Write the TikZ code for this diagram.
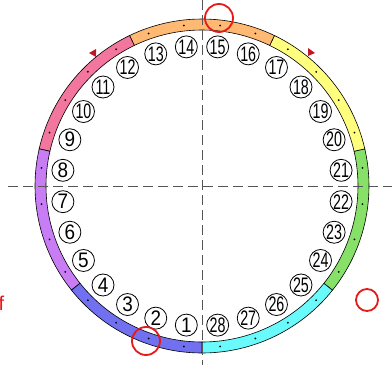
\documentclass[tikz,border=0pt]{standalone}
\usepackage{fontspec}
\setsansfont{Liberation Sans}
\definecolor{segcyan}{RGB}{105,250,252}
\definecolor{seggreen}{RGB}{135,225,105}
\definecolor{segyellow}{RGB}{255,255,125}
\definecolor{segorange}{RGB}{255,185,115}
\definecolor{segpink}{RGB}{242,118,158}
\definecolor{segpurple}{RGB}{200,125,245}
\definecolor{segblue}{RGB}{112,112,240}
\definecolor{markred}{RGB}{230,25,25}
\definecolor{flagred}{RGB}{195,20,40}
\definecolor{axisgray}{RGB}{85,85,85}
\tikzset{
  numlbl/.style={circle, draw=black, line width=0.8pt, fill=white, minimum size=22pt, inner sep=0pt,
    font=\sffamily\fontsize{21}{21}\selectfont},
  axisline/.style={draw=axisgray, line width=0.9pt, dash pattern=on 10pt off 5pt},
  segline/.style={draw=black, line width=0.6pt},
  redring/.style={draw=markred, line width=1.8pt},
  flag/.style={fill=flagred},
}
\begin{document}
\begin{tikzpicture}[x=1pt,y=1pt]
\useasboundingbox (0,0) rectangle (392,376);
\coordinate (O) at (202,190);
% ring segments
\foreach \a/\b/\c in {-90/-38.5714/segcyan, -38.5714/12.8571/seggreen, 12.8571/64.2857/segyellow,
  64.2857/115.7143/segorange, 115.7143/167.1429/segpink, 167.1429/218.5714/segpurple, 218.5714/270/segblue}{
  \filldraw[fill=\c, segline] ([shift={(\a:167)}]O) arc[start angle=\a, end angle=\b, radius=167]
     -- ([shift={(\b:156)}]O) arc[start angle=\b, end angle=\a, radius=156] -- cycle;
}
% axes
\coordinate (hl) at (8,190);
\coordinate (hr) at (392,190);
\coordinate (vt) at (202,376);
\coordinate (vb) at (202,11);
\draw[axisline] (hl) -- (hr);
\draw[axisline] (vt) -- (vb);
% dots and labels
\foreach \k in {1,...,28}{
  \pgfmathsetmacro\ang{-90-(2*\k-1)*6.4285714}
  \fill ([shift={(\ang:161.5)}]O) circle (1);
  \node[numlbl] (n\k) at ([shift={(\ang:140)}]O) {\ifnum\k<10 \scalebox{0.9}[1]{\k}\else\scalebox{0.68}[1]{\k}\fi};
}
% flags
\fill[flag] (89,323) -- (96,327) -- (96,319) -- cycle;
\fill[flag] (315,323) -- (308,328) -- (308,320) -- cycle;
% red marker circles
\node[redring, circle, minimum size=28pt, inner sep=0pt] (m1) at (219,358) {};
\node[redring, circle, minimum size=28pt, inner sep=0pt] (m2) at (146,35) {};
\node[redring, circle, minimum size=22pt, inner sep=0pt] (m3) at (367,76) {};
% red text at left edge
\node[anchor=base west, inner sep=0pt, text=markred, font=\sffamily\fontsize{20}{20}\selectfont] (ft) at (-1.5,66) {f};
\end{tikzpicture}
\end{document}
